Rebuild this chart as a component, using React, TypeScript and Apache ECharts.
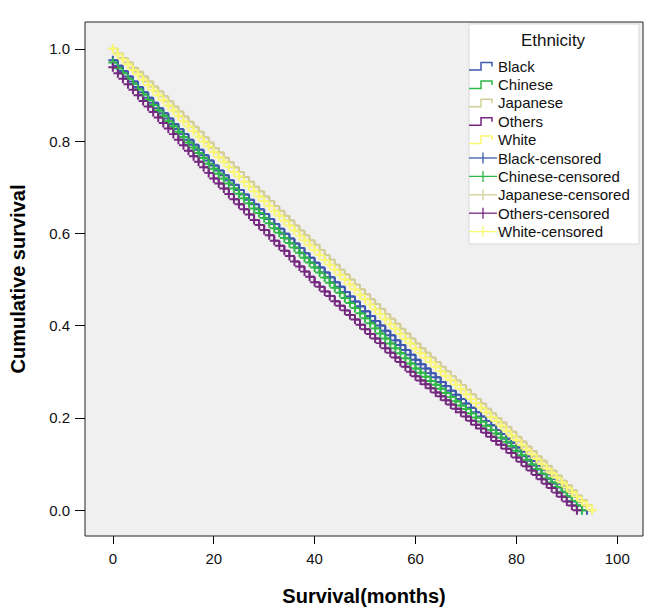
import React, { useEffect, useRef } from "react";
import * as echarts from "echarts";

const MONTHS = [
  0, 1, 2, 3, 4, 5, 6, 7, 8, 9, 10, 11, 12, 13, 14, 15, 16, 17, 18, 19,
  20, 21, 22, 23, 24, 25, 26, 27, 28, 29, 30, 31, 32, 33, 34, 35, 36, 37, 38, 39,
  40, 41, 42, 43, 44, 45, 46, 47, 48, 49, 50, 51, 52, 53, 54, 55, 56, 57, 58, 59,
  60, 61, 62, 63, 64, 65, 66, 67, 68, 69, 70, 71, 72, 73, 74, 75, 76, 77, 78, 79,
  80, 81, 82, 83, 84, 85, 86, 87, 88, 89, 90, 91, 92, 93, 94, 95,
];

const BLACK = [
  0.975, 0.963, 0.952, 0.94, 0.929, 0.917, 0.906, 0.894, 0.883, 0.871,
  0.86, 0.849, 0.837, 0.826, 0.815, 0.803, 0.792, 0.781, 0.769, 0.758,
  0.747, 0.736, 0.726, 0.715, 0.705, 0.694, 0.684, 0.673, 0.663, 0.652,
  0.642, 0.631, 0.62, 0.61, 0.599, 0.589, 0.578, 0.568, 0.557, 0.547,
  0.536, 0.526, 0.515, 0.505, 0.494, 0.484, 0.473, 0.463, 0.452, 0.442,
  0.431, 0.421, 0.41, 0.4, 0.389, 0.379, 0.368, 0.358, 0.347, 0.337,
  0.326, 0.316, 0.307, 0.297, 0.288, 0.278, 0.269, 0.259, 0.25, 0.241,
  0.231, 0.222, 0.212, 0.203, 0.193, 0.184, 0.174, 0.165, 0.155, 0.146,
  0.136, 0.127, 0.117, 0.107, 0.097, 0.088, 0.078, 0.068, 0.058, 0.049,
  0.039, 0.029, 0.019, 0.01, 0.0,
];

const CHINESE = [
  0.97, 0.958, 0.947, 0.935, 0.924, 0.912, 0.901, 0.889, 0.878, 0.866,
  0.855, 0.843, 0.832, 0.82, 0.809, 0.797, 0.786, 0.774, 0.763, 0.751,
  0.74, 0.729, 0.719, 0.708, 0.697, 0.686, 0.676, 0.665, 0.654, 0.644,
  0.633, 0.622, 0.611, 0.601, 0.59, 0.579, 0.569, 0.558, 0.547, 0.537,
  0.526, 0.515, 0.504, 0.493, 0.482, 0.471, 0.46, 0.449, 0.438, 0.427,
  0.416, 0.405, 0.394, 0.383, 0.372, 0.361, 0.351, 0.34, 0.329, 0.318,
  0.307, 0.298, 0.289, 0.28, 0.272, 0.263, 0.254, 0.245, 0.236, 0.227,
  0.219, 0.21, 0.201, 0.192, 0.183, 0.174, 0.166, 0.157, 0.148, 0.139,
  0.129, 0.119, 0.109, 0.099, 0.089, 0.079, 0.069, 0.06, 0.05, 0.04,
  0.03, 0.02, 0.01, 0.0,
];

const JAPANESE = [
  1.0, 0.99, 0.98, 0.97, 0.959, 0.95, 0.94, 0.929, 0.918, 0.908,
  0.897, 0.886, 0.875, 0.864, 0.853, 0.842, 0.831, 0.82, 0.808, 0.797,
  0.785, 0.775, 0.764, 0.754, 0.743, 0.733, 0.722, 0.712, 0.701, 0.691,
  0.68, 0.67, 0.659, 0.649, 0.638, 0.628, 0.617, 0.606, 0.596, 0.585,
  0.575, 0.564, 0.553, 0.543, 0.532, 0.521, 0.511, 0.5, 0.489, 0.479,
  0.468, 0.457, 0.447, 0.436, 0.425, 0.415, 0.404, 0.393, 0.383, 0.372,
  0.361, 0.351, 0.341, 0.331, 0.321, 0.311, 0.301, 0.291, 0.281, 0.271,
  0.261, 0.251, 0.241, 0.231, 0.22, 0.21, 0.2, 0.19, 0.18, 0.17,
  0.159, 0.149, 0.138, 0.128, 0.117, 0.107, 0.096, 0.086, 0.075, 0.064,
  0.054, 0.043, 0.032, 0.022, 0.011, 0.0,
];

const OTHERS = [
  0.96, 0.947, 0.935, 0.923, 0.911, 0.899, 0.887, 0.875, 0.863, 0.851,
  0.839, 0.827, 0.815, 0.803, 0.791, 0.779, 0.767, 0.755, 0.743, 0.731,
  0.719, 0.708, 0.697, 0.685, 0.674, 0.663, 0.652, 0.641, 0.629, 0.618,
  0.607, 0.596, 0.584, 0.573, 0.562, 0.551, 0.539, 0.528, 0.517, 0.506,
  0.494, 0.484, 0.474, 0.464, 0.453, 0.443, 0.433, 0.423, 0.413, 0.402,
  0.392, 0.382, 0.372, 0.362, 0.351, 0.341, 0.331, 0.321, 0.311, 0.3,
  0.29, 0.281, 0.273, 0.264, 0.255, 0.247, 0.238, 0.229, 0.22, 0.212,
  0.203, 0.194, 0.185, 0.177, 0.168, 0.159, 0.15, 0.142, 0.133, 0.124,
  0.114, 0.105, 0.095, 0.086, 0.076, 0.067, 0.057, 0.048, 0.038, 0.029,
  0.019, 0.01, 0.0,
];

const WHITE = [
  1.0, 0.988, 0.977, 0.966, 0.954, 0.944, 0.933, 0.921, 0.91, 0.899,
  0.889, 0.877, 0.866, 0.855, 0.843, 0.832, 0.822, 0.81, 0.799, 0.788,
  0.776, 0.765, 0.755, 0.744, 0.733, 0.723, 0.712, 0.702, 0.691, 0.68,
  0.67, 0.659, 0.648, 0.638, 0.627, 0.617, 0.606, 0.595, 0.585, 0.574,
  0.564, 0.553, 0.542, 0.532, 0.521, 0.51, 0.5, 0.489, 0.478, 0.467,
  0.457, 0.446, 0.435, 0.425, 0.414, 0.403, 0.393, 0.382, 0.371, 0.361,
  0.35, 0.34, 0.33, 0.321, 0.311, 0.301, 0.291, 0.282, 0.272, 0.262,
  0.251, 0.241, 0.232, 0.222, 0.212, 0.202, 0.193, 0.183, 0.172, 0.162,
  0.152, 0.141, 0.131, 0.121, 0.111, 0.1, 0.09, 0.08, 0.07, 0.06,
  0.049, 0.039, 0.029, 0.019, 0.01, 0.0,
];

const GROUPS = ["Black", "Chinese", "Japanese", "Others", "White"];
const GROUP_VALUES = [BLACK, CHINESE, JAPANESE, OTHERS, WHITE];
const X_TICKS = [0, 20, 40, 60, 80, 100];
const Y_TICKS = [0, 0.2, 0.4, 0.6, 0.8, 1.0];
const LEGEND_TITLE = "Ethnicity";
const X_TITLE = "Survival(months)";
const Y_TITLE = "Cumulative survival";

const COLORS = ["#3E58AC", "#2EB848", "#D3CE97", "#74277F", "#FBF873"];
const FONT = 'Arial, "Liberation Sans", Helvetica, sans-serif';
const PLUS = "path://M3.9,0H6.1V3.9H10V6.1H6.1V10H3.9V6.1H0V3.9H3.9Z";

function buildLegend() {
  const elements: any[] = [];
  elements.push({
    type: "rect",
    z: 20,
    shape: { x: 469, y: 24, width: 170, height: 220 },
    style: { fill: "#ffffff", stroke: "#d8d8d8", lineWidth: 1 },
  });
  elements.push({
    type: "text",
    z: 21,
    x: 553,
    y: 40,
    style: {
      text: LEGEND_TITLE,
      fontSize: 17,
      fontFamily: FONT,
      fill: "#111",
      align: "center",
      verticalAlign: "middle",
    },
  });
  const names = [...GROUPS, ...GROUPS.map((g) => g + "-censored")];
  names.forEach((name, i) => {
    const y = 66 + i * 18.4;
    const c = COLORS[i % 5];
    if (i < 5) {
      elements.push({
        type: "polyline",
        z: 21,
        shape: {
          points: [
            [469, y + 4],
            [481, y + 4],
            [481, y - 3.5],
            [492, y - 3.5],
            [492, y + 0.5],
          ],
        },
        style: { stroke: c, lineWidth: 1.5, fill: "none" },
      });
    } else {
      elements.push({
        type: "line",
        z: 21,
        shape: { x1: 469, y1: y, x2: 497, y2: y },
        style: { stroke: c, lineWidth: 1.3 },
      });
      elements.push({
        type: "line",
        z: 21,
        shape: { x1: 483, y1: y - 5.5, x2: 483, y2: y + 5.5 },
        style: { stroke: c, lineWidth: 1.3 },
      });
    }
    elements.push({
      type: "text",
      z: 21,
      x: 498,
      y: y,
      style: {
        text: name,
        fontSize: 15,
        fontFamily: FONT,
        fill: "#111",
        align: "left",
        verticalAlign: "middle",
      },
    });
  });
  return elements;
}

export default function App() {
  const ref = useRef<HTMLDivElement>(null);
  useEffect(() => {
    if (!ref.current) return;
    const chart = echarts.init(ref.current, undefined, { renderer: "svg" });
    const pairs = (vals: number[]) => vals.map((v, i) => [MONTHS[i], v]);
    const lineSeries = GROUPS.map((g, i) => ({
      name: g,
      type: "line",
      step: "end",
      data: pairs(GROUP_VALUES[i]),
      showSymbol: false,
      symbol: "none",
      lineStyle: { color: COLORS[i], width: 2 },
      itemStyle: { color: COLORS[i] },
      z: 2,
    }));
    const censSeries = GROUPS.map((g, i) => ({
      name: g + "-censored",
      type: "scatter",
      data: pairs(GROUP_VALUES[i]),
      symbol: PLUS,
      symbolSize: 9,
      itemStyle: { color: COLORS[i], opacity: 1 },
      z: 3,
    }));
    chart.setOption({
      animation: false,
      backgroundColor: "#ffffff",
      textStyle: { fontFamily: FONT },
      grid: {
        left: 82,
        top: 22,
        right: 23,
        bottom: 70,
        show: true,
        backgroundColor: "#f0f0f0",
        borderColor: "#222",
        borderWidth: 1,
      },
      xAxis: {
        type: "value",
        min: -5.52,
        max: 105.1,
        name: X_TITLE,
        nameLocation: "middle",
        nameGap: 50,
        nameTextStyle: { fontSize: 20, fontWeight: "bold", color: "#000", fontFamily: FONT },
        axisLine: { show: false, onZero: false },
        splitLine: { show: false },
        axisTick: { show: true, length: 8, customValues: X_TICKS, lineStyle: { color: "#000" } },
        axisLabel: { customValues: X_TICKS, fontSize: 15, color: "#111", margin: 15, fontFamily: FONT },
      },
      yAxis: {
        type: "value",
        min: -0.056,
        max: 1.058,
        name: Y_TITLE,
        nameLocation: "middle",
        nameGap: 57,
        nameTextStyle: { fontSize: 20, fontWeight: "bold", color: "#000", fontFamily: FONT },
        axisLine: { show: false, onZero: false },
        splitLine: { show: false },
        axisTick: { show: true, length: 10, customValues: Y_TICKS, lineStyle: { color: "#000" } },
        axisLabel: {
          customValues: Y_TICKS,
          fontSize: 15,
          color: "#111",
          margin: 15,
          fontFamily: FONT,
          formatter: (v: number) => v.toFixed(1),
        },
      },
      graphic: buildLegend(),
      series: [...lineSeries, ...censSeries],
    });
    return () => chart.dispose();
  }, []);
  return (
    <div
      ref={ref}
      style={{ position: "absolute", left: 0, top: 0, width: 666, height: 611 }}
    />
  );
}
